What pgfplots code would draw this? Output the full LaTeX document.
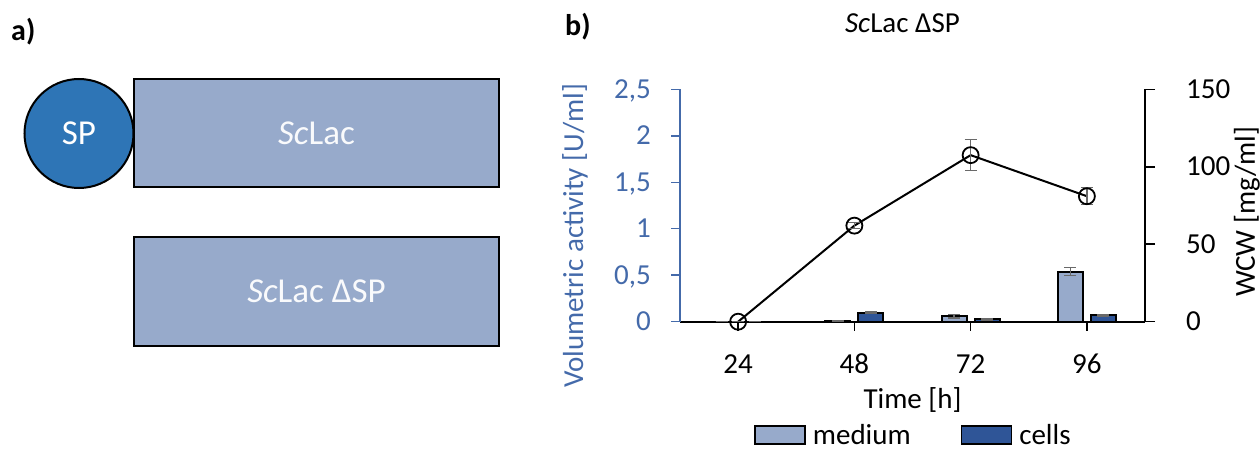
\documentclass[border=0pt]{standalone}
\usepackage{fontspec}
\setmainfont{Carlito}
\usepackage{pgfplots}
\pgfplotsset{compat=1.18}
\definecolor{medc}{RGB}{151,170,203}
\definecolor{cellc}{RGB}{47,85,151}
\definecolor{spc}{RGB}{46,117,182}
\definecolor{axb}{RGB}{68,106,170}
\definecolor{errc}{RGB}{105,105,105}
\newcommand{\fs}[1]{\fontsize{#1}{#1}\selectfont}
\pgfplotsset{
  swatch/.style={legend image code/.code={\draw[##1,line width=1.5pt] (0pt,-9pt) rectangle (50pt,9pt);}}
}
% bar data: x position of each bar (category index -/+ 0.142), value, error
\pgfplotstableread{
x      y      e
-0.142 0      0
0.858  0.01   0
1.858  0.06   0.02
2.858  0.54   0.045
}\medium
\pgfplotstableread{
x      y      e
0.142  0      0
1.142  0.095  0.008
2.142  0.025  0.005
3.142  0.07   0.006
}\cells
\pgfplotstableread{
x  y      e
0  0      0
1  62     2
2  107.5  10
3  81     5.5
}\wcw
\begin{document}
\begin{tikzpicture}
\path[use as bounding box] (0,0) rectangle (1260pt,453pt);
% ---------- panel a ----------
\node[font=\fs{30}\bfseries, anchor=west, inner sep=0pt] at (11pt,421pt) {a)};
\draw[line width=2pt, fill=medc] (134pt,265.5pt) rectangle (499pt,373.7pt);
\draw[line width=2pt, fill=spc] (79pt,319.5pt) circle (54.5pt);
\draw[line width=2pt, fill=medc] (134pt,107pt) rectangle (499pt,216.3pt);
\node[font=\fs{35}, text=white] at (79pt,319.5pt) {SP};
\node[font=\fs{35}, text=white!94!medc] at (316.5pt,319.5pt) {\textit{Sc}Lac};
\node[font=\fs{35}, text=white!94!medc] at (316.5pt,161.5pt) {\textit{Sc}Lac ΔSP};
% ---------- panel b ----------
\node[font=\fs{30}\bfseries, anchor=west, inner sep=0pt] at (565pt,426pt) {b)};
\begin{axis}[
  at={(680pt,131.3pt)}, anchor=south west, scale only axis,
  width=465pt, height=232.4pt,
  xmin=-0.5, xmax=3.5, ymin=0, ymax=2.5,
  axis x line*=bottom, axis y line*=left,
  x axis line style={black, line width=2pt},
  y axis line style={axb, line width=1.5pt},
  xtick={0,1,2,3}, xticklabels={24,48,72,96},
  ytick={0,0.5,1,1.5,2,2.5}, yticklabels={0,{0,5},1,{1,5},2,{2,5}},
  tick align=outside, major tick length=9pt,
  x tick style={black, line width=1.5pt},
  y tick style={axb, line width=1.5pt},
  /pgf/number format/assume math mode=true,
  xticklabel style={font=\fs{29}, anchor=base, inner sep=0pt, yshift=-43pt},
  yticklabel style={font=\fs{29}, text=axb, anchor=base east, inner sep=0pt, xshift=-20pt, yshift=-9pt},
  xlabel={Time [h]},
  xlabel style={font=\fs{29}, at={(axis description cs:0.5,-0.337)}, anchor=center},
  ylabel={Volumetric activity [U/ml]},
  ylabel style={font=\fs{29}, text=axb, at={(axis description cs:-0.2258,0.369)}, anchor=center},
  title={\textit{Sc}Lac ΔSP},
  title style={font=\fs{29}, at={(axis description cs:0.4785,1.2207)}, anchor=base},
  legend style={at={(axis description cs:0.5,-0.487)}, anchor=center, draw=none, fill=none,
    legend columns=2, font=\fs{29},
    /tikz/every odd column/.append style={column sep=7pt},
    /tikz/every even column/.append style={column sep=50pt},
    nodes={inner sep=0pt, text depth=0pt}},
  legend cell align=left,
  clip=false,
]
\addplot[ybar, bar width=25pt, bar shift=0pt, fill=medc, draw=black, line width=2pt, swatch,
  error bars/.cd, y dir=both, y explicit,
  error bar style={errc, line width=1.5pt},
  error mark options={errc, line width=1.5pt, mark size=6pt, rotate=90}]
  table[x=x, y=y, y error=e] {\medium};
\addlegendentry{medium}
\addplot[ybar, bar width=25pt, bar shift=0pt, fill=cellc, draw=black, line width=2pt, swatch,
  error bars/.cd, y dir=both, y explicit,
  error bar style={errc, line width=1.5pt},
  error mark options={errc, line width=1.5pt, mark size=6pt, rotate=90}]
  table[x=x, y=y, y error=e] {\cells};
\addlegendentry{cells}
\end{axis}
\begin{axis}[
  at={(680pt,131.3pt)}, anchor=south west, scale only axis,
  width=465pt, height=232.4pt,
  xmin=-0.5, xmax=3.5, ymin=0, ymax=150,
  axis x line=none, axis y line*=right,
  y axis line style={black, line width=1.5pt},
  ytick={0,50,100,150}, yticklabels={0,50,100,150},
  tick align=outside, major tick length=10pt,
  y tick style={black, line width=1.5pt},
  /pgf/number format/assume math mode=true,
  yticklabel style={font=\fs{29}, anchor=base west, inner sep=0pt, xshift=31pt, yshift=-9pt},
  ylabel={WCW [mg/ml]},
  ylabel style={font=\fs{29}, at={(axis description cs:1.219,0.472)}, anchor=center},
  clip=false,
]
\addplot[black, line width=2pt, mark=o, mark size=8pt, mark options={line width=1.8pt},
  error bars/.cd, y dir=both, y explicit,
  error bar style={errc, line width=1.5pt},
  error mark options={errc, line width=1.5pt, mark size=6pt, rotate=90}]
  table[x=x, y=y, y error=e] {\wcw};
\end{axis}
\end{tikzpicture}
\end{document}
